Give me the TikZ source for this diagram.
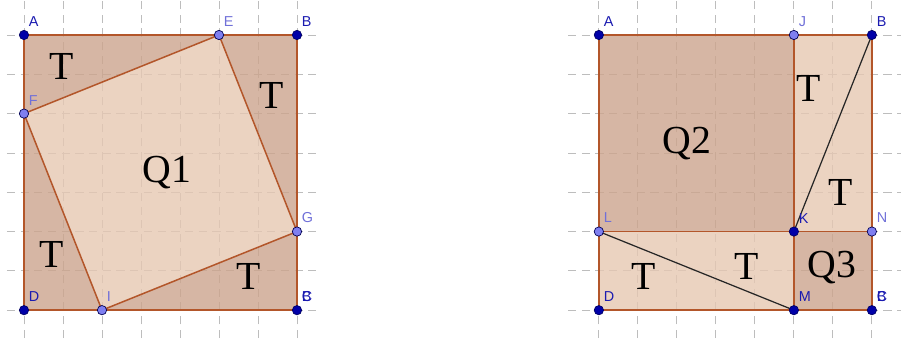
\documentclass[tikz,border=0pt]{standalone}
\usepackage{fontspec}
\setmainfont{Liberation Serif}
\newfontfamily\ggbfont{Liberation Sans}
\definecolor{GridGrey}{HTML}{BDBDBD}
\definecolor{EdgeBrown}{HTML}{B3562A}
\definecolor{DarkTan}{HTML}{CCA48D}
\definecolor{LightTan}{HTML}{E6C8B2}
\definecolor{PtBlue}{HTML}{0000A8}
\definecolor{PtLight}{HTML}{7F7FF0}
\definecolor{LblBlue}{HTML}{1A1AB0}
\definecolor{LblLight}{HTML}{7070D8}

\begin{document}
\begin{tikzpicture}[x=1cm,y=1.008cm,every node/.style={font=\fontsize{29}{29}\selectfont},
gridline/.style={GridGrey,dash pattern=on 6pt off 4pt,line width=0.6pt},
edge/.style={EdgeBrown,line width=1.1pt},
freept/.style={circle,fill=PtBlue,draw=PtBlue!60!black,inner sep=0pt,minimum size=6.8pt,line width=0.5pt},
deppt/.style={freept,fill=PtLight,draw=PtBlue!50!black},
lbl/.style={font=\ggbfont\fontsize{10.5}{10.5}\selectfont,text=LblBlue,anchor=base west,inner sep=0pt},
deplbl/.style={lbl,text=LblLight}]
\useasboundingbox (-0.615,-0.71) rectangle (22.487,7.89);
% grids
\foreach \x in {0,...,7} \draw[gridline] (\x,-0.71)--(\x,7.89);
\foreach \y in {0,...,7} \draw[gridline] (-0.44,\y)--(7.49,\y);
\foreach \x in {0,...,7} \draw[gridline] (14.74+\x,-0.71)--(14.74+\x,7.89);
\foreach \y in {0,...,7} \draw[gridline] (13.95,\y)--(22.49,\y);
% left figure
\coordinate (lA) at (0,7); \coordinate (lB) at (7,7); \coordinate (lC) at (7,0); \coordinate (lD) at (0,0);
\coordinate (lE) at (5,7); \coordinate (lF) at (0,5); \coordinate (lG) at (7,2); \coordinate (lI) at (2,0);
\fill[DarkTan,fill opacity=0.8,even odd rule] (lA)--(lB)--(lC)--(lD)--cycle (lE)--(lF)--(lI)--(lG)--cycle;
\fill[LightTan,fill opacity=0.8] (lE)--(lF)--(lI)--(lG)--cycle;
\draw[edge] (lA)--(lB)--(lC)--(lD)--cycle; \draw[edge] (lE)--(lF)--(lI)--(lG)--cycle;
\node (t1) at (0.97,6.2){T}; \node (t2) at (6.35,5.47){T}; \node (q1) at (3.66,3.5){Q1}; \node (t3) at (0.71,1.41){T}; \node (t4) at (5.75,0.85){T};
\foreach \p in {lA,lB,lC,lD} \node[freept] at (\p){};
\foreach \p in {lE,lF,lG,lI} \node[deppt] at (\p){};
\node[lbl] (nlA) at (0.12,7.21){A}; \node[lbl] (nlB) at (7.12,7.21){B}; \node[lbl] (nlD) at (0.12,0.21){D};
\node[lbl] (nlB2) at (7.12,0.21){B}; \node[lbl] (nlC) at (7.12,0.21){C};
\node[deplbl] (nlE) at (5.12,7.21){E}; \node[deplbl] (nlF) at (0.12,5.21){F}; \node[deplbl] (nlG) at (7.12,2.24){G}; \node[deplbl] (nlI) at (2.12,0.21){I};
% right figure
\begin{scope}[xshift=14.74cm]
\coordinate (rA) at (0,7); \coordinate (rJ) at (5,7); \coordinate (rB) at (7,7); \coordinate (rL) at (0,2); \coordinate (rK) at (5,2);
\coordinate (rN) at (7,2); \coordinate (rD) at (0,0); \coordinate (rM) at (5,0); \coordinate (rC) at (7,0);
\fill[DarkTan,fill opacity=0.8] (rL) rectangle (rJ); \fill[DarkTan,fill opacity=0.8] (rM) rectangle (rN);
\fill[LightTan,fill opacity=0.8] (rK) rectangle (rB); \fill[LightTan,fill opacity=0.8] (rD) rectangle (rK);
\draw[edge] (rA)--(rB)--(rC)--(rD)--cycle; \draw[edge] (rJ)--(rM); \draw[edge] (rL)--(rN);
\draw[black!85,line width=0.9pt] (rL)--(rM); \draw[black!85,line width=0.9pt] (rK)--(rB);
\node (t5) at (5.37,5.65){T}; \node (q2) at (2.26,4.24){Q2}; \node (t6) at (6.19,3.0){T}; \node (q3) at (5.97,1.08){Q3}; \node (t7) at (3.79,1.12){T}; \node (t8) at (1.14,0.86){T};
\foreach \p in {rA,rB,rC,rD,rK,rM} \node[freept] at (\p){};
\foreach \p in {rJ,rL,rN} \node[deppt] at (\p){};
\node[lbl] (nrA) at (0.12,7.21){A}; \node[lbl] (nrB) at (7.12,7.21){B}; \node[lbl] (nrD) at (0.12,0.21){D}; \node[lbl] (nrK) at (5.12,2.21){K}; \node[lbl] (nrM) at (5.12,0.21){M};
\node[lbl] (nrB2) at (7.12,0.21){B}; \node[lbl] (nrC) at (7.12,0.21){C};
\node[deplbl] (nrJ) at (5.12,7.21){J}; \node[deplbl] (nrL) at (0.12,2.24){L}; \node[deplbl] (nrN) at (7.12,2.24){N};
\end{scope}
\end{tikzpicture}
\end{document}
